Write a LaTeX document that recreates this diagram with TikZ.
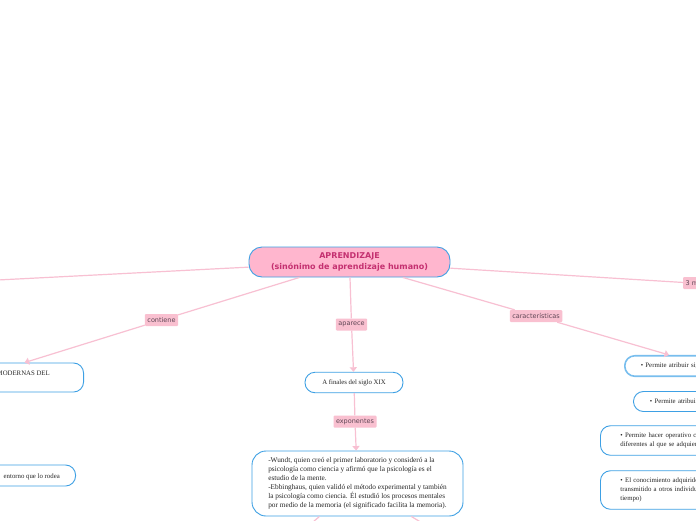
\documentclass[tikz,border=0pt]{standalone}
\usepackage{fontspec}
\setmainfont{Liberation Serif}
\newfontfamily\labfont{DejaVu Sans}
\usetikzlibrary{arrows.meta}
\definecolor{linkpink}{RGB}{248,192,210}
\definecolor{labpink}{RGB}{249,192,208}
\definecolor{labtext}{RGB}{95,70,85}
\definecolor{mainpink}{RGB}{255,182,206}
\definecolor{titlecol}{RGB}{196,48,112}
\definecolor{nodeblue}{RGB}{62,160,228}
\definecolor{lightblue}{RGB}{120,190,238}
\tikzset{
  card/.style={draw=nodeblue, line width=0.9pt, rounded corners=10pt, fill=white,
    font=\fontsize{6.8}{9}\selectfont, text=black!85},
  mainbox/.style={draw=nodeblue, line width=0.9pt, fill=mainpink, rounded corners=13pt,
    minimum width=201pt, minimum height=30pt, align=center, inner sep=0pt,
    font=\labfont\bfseries\fontsize{8}{10.5}\selectfont, text=titlecol},
  lab/.style={fill=labpink, rounded corners=1pt, font=\labfont\fontsize{6.5}{7}\selectfont,
    text=labtext, inner xsep=2.5pt, inner ysep=0pt, minimum height=12pt},
  link/.style={draw=linkpink, line width=1.2pt},
  arr/.style={link, -{Triangle[length=4.5pt,width=7pt]}},
  txt/.style={font=\fontsize{6.8}{9}\selectfont, text=black!85, inner sep=0pt}
}
\begin{document}
\begin{tikzpicture}[x=1pt,y=-1pt]
\clip (0,0) rectangle (696,520);
\fill[white] (0,0) rectangle (696,520);

% nodes
\node[mainbox] (main) at (349.5,262) {APRENDIZAJE\\(sinónimo de aprendizaje humano)};
\node[card, minimum width=98pt, minimum height=20.5pt, inner sep=0pt] (finales) at (354,382.5) {A finales del siglo XIX};
\node[card, minimum width=211pt, minimum height=65pt, align=left, rounded corners=14pt, inner xsep=4pt,
  font=\fontsize{7.3}{9}\selectfont] (big) at (357.5,483.5)
  {-Wundt, quien creó el primer laboratorio y consideró a la\\
   psicología como ciencia y afirmó que la psicología es el\\
   estudio de la mente.\\
   -Ebbinghaus, quien validó el método experimental y también\\
   la psicología como ciencia. Él estudió los procesos mentales\\
   por medio de la memoria (el significado facilita la memoria).};

\node[card, anchor=west, minimum height=20.5pt, text width=132pt, inner xsep=16pt, align=left,
  draw=lightblue, line width=1.6pt] (r1) at (624,366) {• Permite atribuir significado};
\node[card, anchor=west, minimum height=20pt, text width=132pt, inner xsep=16.5pt, align=left] (r2) at (633,401.5) {• Permite atribuir};
\node[card, anchor=west, minimum height=29.5pt, text width=140pt, inner xsep=20pt, align=left] (r3) at (600,440.5)
  {• Permite hacer operativo conocimientos\\diferentes al que se adquiere};
\node[card, anchor=west, minimum height=38.5pt, text width=140pt, inner xsep=20pt, align=left] (r4) at (600,490)
  {• El conocimiento adquirido\\transmitido a otros individuos\\tiempo)};

\node[card, anchor=east, minimum width=214pt, minimum height=29pt] (left1) at (84,377.5) {};
\node[txt, anchor=base east] (left1t) at (50,375.5) {MODERNAS DEL};
\node[card, anchor=east, minimum width=150pt, minimum height=21pt] (left2) at (76,475.5) {};
\node[txt, anchor=base east] (left2t) at (60,478) {entorno que lo rodea};

% labels
\node[lab] (lcont) at (161.5,320) {contiene};
\node[lab] (lapar) at (351.5,324.5) {aparece};
\node[lab] (lexp) at (355,421.5) {exponentes};
\node[lab] (lcar) at (536,316) {características};
\node[lab, anchor=west] (l3m) at (683,283) {3 m};

\coordinate (offL) at (-100,285);
\coordinate (offB1) at (283,548);
\coordinate (offB2) at (463,548);

% connectors
\draw[link] (main) -- (offL);
\draw[link] (main) -- (l3m);
\draw[arr] (main) -- (lcont) -- (left1);
\draw[arr] (main) -- (lapar) -- (finales);
\draw[arr] (finales) -- (lexp) -- (big);
\draw[arr] (main) -- (lcar) -- (r1);
\draw[link] (big) -- (offB1);
\draw[link] (big) -- (offB2);
\end{tikzpicture}
\end{document}
